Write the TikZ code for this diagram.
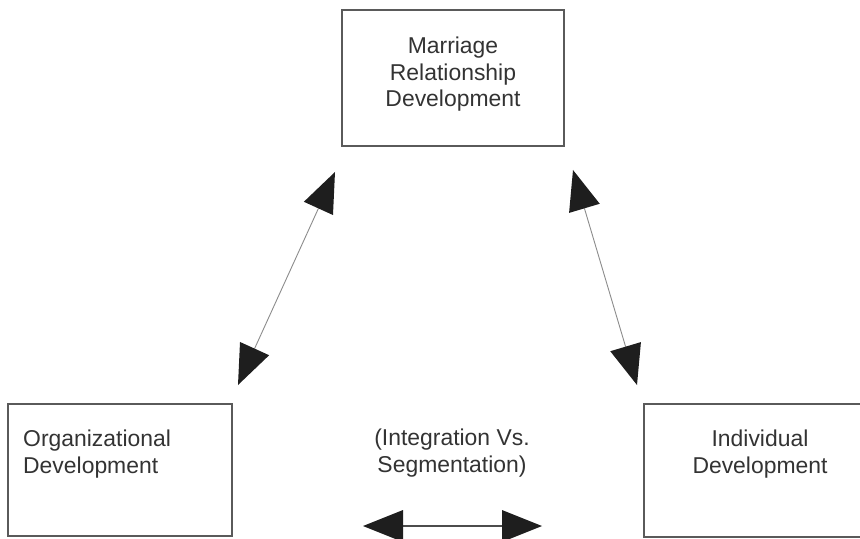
\documentclass[tikz,border=0pt]{standalone}
\usepackage{fontspec}
\setmainfont{Liberation Sans}
\usetikzlibrary{arrows.meta}
\definecolor{boxline}{HTML}{5A5A5A}
\definecolor{inktext}{HTML}{333333}
\definecolor{headfill}{HTML}{1E1E1E}
\begin{document}
\begin{tikzpicture}[x=1bp,y=-1bp,
  box/.style={draw=boxline,line width=1.4bp},
  label/.style={text=inktext,inner sep=0pt,font=\fontsize{23}{27}\selectfont},
  link/.style={draw=black!45,line width=0.9bp,
    {Triangle[length=40bp,width=32bp,fill=headfill,line width=0pt]}-{Triangle[length=40bp,width=32bp,fill=headfill,line width=0pt]}},
  flat/.style={draw=black!70,line width=1.4bp,
    {Triangle[length=40bp,width=32bp,fill=headfill,line width=0pt]}-{Triangle[length=40bp,width=32bp,fill=headfill,line width=0pt]}}]
\useasboundingbox (0,0) rectangle (860,539);
\clip (0,0) rectangle (860,539);
\fill[white] (0,0) rectangle (860,539);

% boxes
\draw[box] (342,10) rectangle (564,146);
\draw[box] (8,404) rectangle (232,536);
\draw[box] (644,404) rectangle (900,537);

% texts (anchored on the baseline of the last line)
\node[label,align=center,anchor=base] (mrd) at (453,107) {Marriage\\Relationship\\Development};
\node[label,align=left,anchor=base west] (od) at (23,473) {Organizational\\Development};
\node[label,align=center,anchor=base] (ivs) at (452,472) {(Integration Vs.\\Segmentation)};
\node[label,align=center,anchor=base] (id) at (760,473) {Individual\\Development};

% arrow ends
\coordinate (mrdL) at (335,172);
\coordinate (odT) at (238,385);
\coordinate (mrdR) at (573,170);
\coordinate (idT) at (637,385);
\coordinate (ivsL) at (363,526);
\coordinate (ivsR) at (542,526);

\draw[link] (mrdL) -- (odT);
\draw[link] (mrdR) -- (idT);
\draw[flat] (ivsL) -- (ivsR);
\end{tikzpicture}
\end{document}
